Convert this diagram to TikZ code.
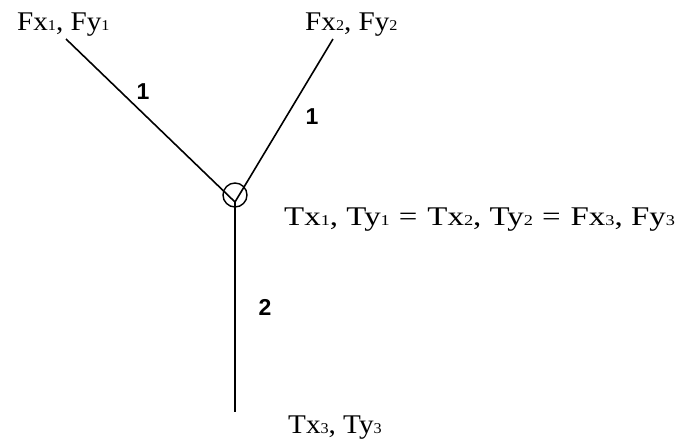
\documentclass[tikz,border=0pt]{standalone}
\usepackage{fontspec}
\setmainfont[FakeStretch=1.08]{Liberation Serif}
\newfontfamily\eqfont[FakeStretch=1.22]{Liberation Serif}
\newfontfamily\numfont{Liberation Sans}
\newcommand{\lsub}[1]{{\fontsize{15}{15}\selectfont #1}}
\newcommand{\eqsp}{\hspace{9pt}=\hspace{10pt}}
\tikzset{
  lbl/.style={inner sep=0pt, anchor=base west, font=\fontsize{27}{27}\selectfont},
  eqlbl/.style={inner sep=0pt, anchor=base west, font=\eqfont\fontsize{27}{27}\selectfont},
  num/.style={inner sep=0pt, font=\numfont\bfseries\fontsize{23}{23}\selectfont},
  member/.style={line width=1.6pt, black},
  joint/.style={circle, draw, line width=1.4pt, minimum size=24pt, inner sep=0pt}
}
\begin{document}
\begin{tikzpicture}[x=1pt,y=-1pt]
\useasboundingbox (0,0) rectangle (685,440);
\node[lbl] (f1) at (17,30) {Fx\lsub1, Fy\lsub1};
\node[lbl] (f2) at (305,30) {Fx\lsub2, Fy\lsub2};
\node[eqlbl] (eq) at (284,225) {Tx\lsub1, Ty\lsub1\eqsp Tx\lsub2, Ty\lsub2\eqsp Fx\lsub3, Fy\lsub3};
\node[lbl] (t3) at (288,433) {Tx\lsub3, Ty\lsub3};
\node[joint] (j) at (235,195) {};
\coordinate (m) at (235,202);
\coordinate (e1) at (66,39);
\coordinate (e2) at (333,39);
\coordinate (e3) at (235,412);
\draw[member] (e1) -- (m);
\draw[member] (e2) -- (m);
\draw[member] (m) -- (e3);
\node[num] (n1) at (143,92) {1};
\node[num] (n2) at (312,117) {1};
\node[num] (n3) at (265,307) {2};
\end{tikzpicture}
\end{document}
